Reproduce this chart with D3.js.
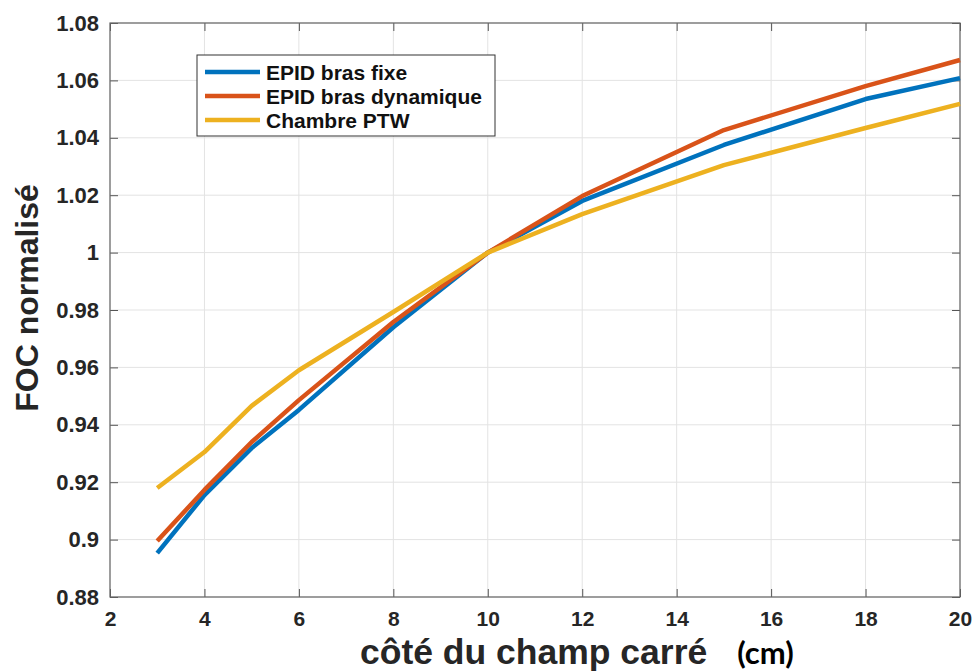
<!DOCTYPE html>
<html><head><meta charset="utf-8">
<script src="https://cdn.jsdelivr.net/npm/d3@7"></script>
<style>body{margin:0;background:#fff}</style>
</head><body>
<svg id="c" width="975" height="672"></svg>
<script>
const xs = [3, 4, 5, 6, 8, 10, 12, 15, 18, 20];
const epidFixe = [0.8953, 0.9155, 0.9319, 0.9452, 0.974, 1.0, 1.018, 1.0375, 1.0535, 1.0608];
const epidDyn = [0.8995, 0.9173, 0.934, 0.9486, 0.9758, 1.0, 1.0197, 1.0427, 1.058, 1.0671];
const ptw = [0.918, 0.9305, 0.9466, 0.959, 0.9793, 1.0, 1.0134, 1.0305, 1.0434, 1.0518];
const seriesNames = ["EPID bras fixe", "EPID bras dynamique", "Chambre PTW"];
const seriesColors = ["#0072BD", "#D95319", "#EDB120"];
const xTicks = [2, 4, 6, 8, 10, 12, 14, 16, 18, 20];
const yTicks = [0.88, 0.9, 0.92, 0.94, 0.96, 0.98, 1, 1.02, 1.04, 1.06, 1.08];

const svg = d3.select("#c");
const L = 110, R = 960, T = 23, B = 597;
const x = d3.scaleLinear().domain([2, 20]).range([L, R]);
const y = d3.scaleLinear().domain([0.88, 1.08]).range([B, T]);
const font = "'Liberation Sans', Arial, sans-serif";

// grid
svg.append("g").selectAll("line").data(xTicks).join("line")
  .attr("x1", d => x(d)).attr("x2", d => x(d)).attr("y1", T).attr("y2", B)
  .attr("stroke", "#e3e3e3").attr("stroke-width", 1);
svg.append("g").selectAll("line").data(yTicks).join("line")
  .attr("y1", d => y(d)).attr("y2", d => y(d)).attr("x1", L).attr("x2", R)
  .attr("stroke", "#e3e3e3").attr("stroke-width", 1);

// axes
const yFmt = d => String(+d.toFixed(2));
const ax = (g, size) => {
  g.selectAll("text").attr("font-family", font).attr("font-weight", "bold").attr("font-size", size).attr("fill", "#262626");
  g.select(".domain").remove();
  g.selectAll("line").attr("stroke", "#555");
};
svg.append("g").attr("transform", `translate(0,${B})`)
  .call(d3.axisBottom(x).tickValues(xTicks).tickSize(-8).tickPadding(14).tickFormat(d3.format("d")))
  .call(ax, "21px");
svg.append("g").attr("transform", `translate(0,${T})`)
  .call(d3.axisTop(x).tickValues(xTicks).tickSize(-8).tickFormat(""))
  .call(ax, "21px");
svg.append("g").attr("transform", `translate(${L},0)`)
  .call(d3.axisLeft(y).tickValues(yTicks).tickSize(-8).tickPadding(11).tickFormat(yFmt))
  .call(ax, "22px");
svg.append("g").attr("transform", `translate(${R},0)`)
  .call(d3.axisRight(y).tickValues(yTicks).tickSize(-8).tickFormat(""))
  .call(ax, "22px");
svg.append("rect").attr("x", L).attr("y", T).attr("width", R - L).attr("height", B - T)
  .attr("fill", "none").attr("stroke", "#666").attr("stroke-width", 1.2);

// lines
const line = d3.line().x((d, i) => x(xs[i])).y(d => y(d));
[epidFixe, epidDyn, ptw].forEach((s, i) => {
  svg.append("path").datum(s).attr("d", line).attr("fill", "none")
    .attr("stroke", seriesColors[i]).attr("stroke-width", 4.5)
    .attr("stroke-linejoin", "round");
});

// legend
const lg = svg.append("g");
lg.append("rect").attr("x", 197).attr("y", 55).attr("width", 298).attr("height", 81)
  .attr("fill", "#fff").attr("stroke", "#333").attr("stroke-width", 1);
seriesNames.forEach((n, i) => {
  const yy = 72 + i * 24;
  lg.append("line").attr("x1", 205).attr("x2", 260).attr("y1", yy).attr("y2", yy)
    .attr("stroke", seriesColors[i]).attr("stroke-width", 4.5);
  lg.append("text").attr("x", 266).attr("y", yy).attr("dy", "0.36em")
    .attr("font-family", font).attr("font-weight", "bold").attr("font-size", "21px")
    .attr("fill", "#111").text(n);
});

// axis titles
svg.append("text").attr("transform", `translate(38,298) rotate(-90)`)
  .attr("text-anchor", "middle").attr("font-family", font).attr("font-weight", "bold")
  .attr("font-size", "32px").attr("fill", "#262626").text("FOC normalisé");
const xt = svg.append("text").attr("x", 360).attr("y", 664).attr("text-anchor", "start")
  .attr("font-family", font).attr("font-weight", "bold").attr("font-size", "35.5px").attr("fill", "#262626");
xt.append("tspan").text("côté du champ carré");
xt.append("tspan").attr("dx", 30).attr("font-family", "Lato, 'Open Sans', sans-serif").attr("font-size", "31px").attr("fill", "#000").text("(cm)");
</script>
</body></html>
